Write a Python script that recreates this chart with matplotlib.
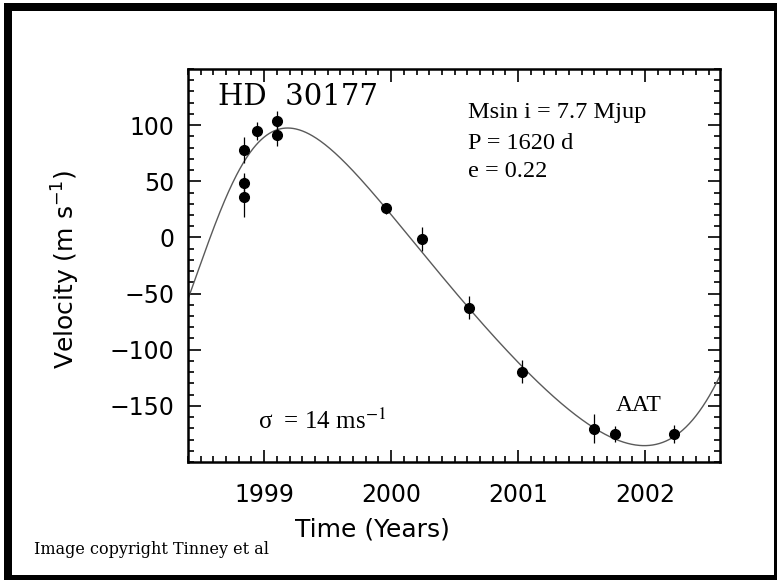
import numpy as np
import matplotlib
matplotlib.use("Agg")
import matplotlib.pyplot as plt
from matplotlib.patches import Rectangle
from matplotlib.ticker import MultipleLocator

# Radial-velocity measurements of HD 30177 (epoch in years, velocity and error in m/s)
epoch = [1998.843, 1998.843, 1998.843, 1998.947, 1999.100, 1999.100,
         1999.958, 2000.240, 2000.617, 2001.033, 2001.598, 2001.760, 2002.230]
velocity = [78.0, 48.8, 36.3, 95.1, 103.7, 91.3,
            26.0, -1.3, -62.5, -119.5, -170.5, -175.0, -175.0]
vel_err = [11.5, 9.0, 18.0, 8.0, 9.0, 10.0,
           5.0, 11.0, 10.0, 10.0, 13.0, 7.0, 8.0]

# Points along the published orbit curve (year, m/s)
curve_epoch = [1998.400, 1998.534, 1998.843, 1999.205, 1999.958, 2000.240,
               2000.617, 2001.033, 2001.598, 2001.995, 2002.230, 2002.565]
curve_velocity = [-49.0, -17.0, 66.0, 97.0, 26.0, -8.0,
                  -62.5, -119.5, -173.0, -184.0, -175.0, -130.0]

# Orbital solution quoted on the panel
period_days = 1620.0
ecc = 0.22
msini_label = "Msin i = 7.7 Mjup"
period_label = "P = 1620 d"
ecc_label = "e = 0.22"

x_ticks = [1999, 2000, 2001, 2002]
y_ticks = [-150, -100, -50, 0, 50, 100]


def true_anomaly(t_days, tp):
    mean_anom = 2 * np.pi * (t_days - tp) / period_days
    E = mean_anom.copy()
    for _ in range(50):
        E = E - (E - ecc * np.sin(E) - mean_anom) / (1 - ecc * np.cos(E))
    return 2 * np.arctan2(np.sqrt(1 + ecc) * np.sin(E / 2),
                          np.sqrt(1 - ecc) * np.cos(E / 2))


def to_days(year):
    return (np.asarray(year, dtype=float) - 1998.0) * 365.25


# Keplerian with P and e fixed: v = A cos(nu) + B sin(nu) + C,
# periastron time found by scanning one full period
t_c = to_days(curve_epoch)
v_c = np.asarray(curve_velocity)
best = None
for tp in np.linspace(0, period_days, 3241):
    nu = true_anomaly(t_c, tp)
    M = np.column_stack([np.cos(nu), np.sin(nu), np.ones_like(nu)])
    coef, *_ = np.linalg.lstsq(M, v_c, rcond=None)
    resid = np.sum((M @ coef - v_c) ** 2)
    if best is None or resid < best[0]:
        best = (resid, tp, coef)
_, tp_fit, coef_fit = best

x_lo, x_hi = 1998.40, 2002.59
t_grid = np.linspace(x_lo, x_hi, 800)
nu_grid = true_anomaly(to_days(t_grid), tp_fit)
v_model = coef_fit[0] * np.cos(nu_grid) + coef_fit[1] * np.sin(nu_grid) + coef_fit[2]

fig = plt.figure(figsize=(7.77, 5.8), dpi=100)
ax = fig.add_axes([188 / 777, 1 - 462 / 580, 532 / 777, 393 / 580])

ax.plot(t_grid, v_model, color="#5a5a5a", lw=1.0, zorder=2)
ax.errorbar(epoch, velocity, yerr=vel_err, fmt="o", color="black",
            markersize=7, elinewidth=0.9, capsize=0, zorder=3)

ax.set_xlim(x_lo, x_hi)
ax.set_ylim(-200, 150)
ax.set_xticks(x_ticks)
ax.set_yticks(y_ticks)
ax.xaxis.set_minor_locator(MultipleLocator(0.1))
ax.yaxis.set_minor_locator(MultipleLocator(10))
ax.tick_params(which="both", direction="in", top=True, right=True,
               width=1.2, colors="black")
ax.tick_params(which="major", length=9, labelsize=17)
ax.tick_params(axis="x", which="major", pad=15)
ax.tick_params(axis="y", which="major", pad=10)
ax.tick_params(which="minor", length=4.5)
for lab in ax.get_xticklabels() + ax.get_yticklabels():
    lab.set_family("DejaVu Sans")
for sp in ax.spines.values():
    sp.set_linewidth(1.8)

ax.set_xlabel("Time (Years)", fontsize=18, family="DejaVu Sans")
ax.xaxis.set_label_coords(0.346, -0.142)
ax.set_ylabel("Velocity (m s$^{-1}$)", fontsize=18, family="DejaVu Sans",
              math_fontfamily="dejavusans")
ax.yaxis.set_label_coords(-0.199, 0.49)

ax.text(0.056, 0.929, "HD  30177", transform=ax.transAxes, fontsize=21,
        family="DejaVu Serif", va="center", ha="left")

serif = ["Liberation Serif", "DejaVu Serif"]
for label, yy in zip([msini_label, period_label, ecc_label], [0.890, 0.810, 0.738]):
    ax.text(0.526, yy, label, transform=ax.transAxes, fontsize=17.5,
            family=serif, va="center", ha="left")

ax.text(0.131, 0.103, "σ  = 14 ms$^{-1}$", transform=ax.transAxes,
        fontsize=18, family=serif, math_fontfamily="stix", va="center", ha="left")
ax.text(0.805, 0.143, "AAT", transform=ax.transAxes, fontsize=17,
        family=serif, va="center", ha="left")

fig.text(34 / 777, 1 - 550 / 580, "Image copyright Tinney et al", fontsize=11.5,
         family="DejaVu Serif", va="center", ha="left")

# Heavy outer frame
fig.patches.append(Rectangle((8 / 777, 1 / 580), 770 / 777, 572 / 580,
                             transform=fig.transFigure, fill=False,
                             edgecolor="black", linewidth=8 * 0.72,
                             clip_on=False))

fig.savefig("out.png", dpi=100)
